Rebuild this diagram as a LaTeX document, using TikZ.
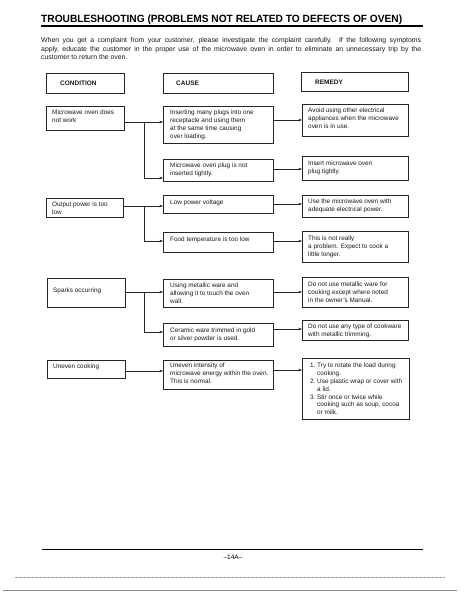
\documentclass[tikz,border=0pt]{standalone}
\usepackage{fontspec}
\setmainfont{Liberation Sans}
\usepackage{graphicx}
\usetikzlibrary{arrows.meta,calc}
\tikzset{
  bx/.style={draw=black!85, line width=0.6pt, inner sep=0pt, anchor=north west},
  bt/.style={font=\fontsize{6.4}{7.8}\selectfont, align=left, inner sep=0pt, anchor=north west, text=black!90},
  hd/.style={font=\bfseries\fontsize{6.5}{7}\selectfont, inner sep=0pt, anchor=west, text=black!90},
  para/.style={font=\fontsize{6.9}{8.5}\selectfont, inner sep=0pt, anchor=base west, text=black!90},
  arr/.style={-{Stealth[length=3.5pt,width=2.6pt]}, line width=0.5pt, draw=black!85},
}
\newcommand\mkbox[8]{%
  \node[bx, minimum width=#4pt, minimum height=#5pt] (#1) at (#2,#3) {};
  \node[bt] (#1t) at ([shift={(#6,#7)}]#1.north west) {#8};
}
\begin{document}
\begin{tikzpicture}[x=1pt,y=-1pt]
\useasboundingbox (0,0) rectangle (464,600);
\fill[white] (0,0) rectangle (464,600);

% title
\node[inner sep=0pt, anchor=base west] (title) at (41,22.5)
  {\resizebox{361pt}{\height}{\bfseries\fontsize{10.5}{12}\selectfont TROUBLESHOOTING (PROBLEMS NOT RELATED TO DEFECTS OF OVEN)}};
\coordinate (tl) at (41,26);
\coordinate (tr) at (423,26);
\draw[line width=1.1pt] (tl) -- (tr);

% paragraph
\node[para] (p1) at (41,42.5) {\makebox[380pt][s]{When you get a complaint from your customer, please investigate the complaint carefully. If the following symptoms}};
\node[para] (p2) at (41,51) {\makebox[380pt][s]{apply, educate the customer in the proper use of the microwave oven in order to eliminate an unnecessary trip by the}};
\node[para] (p3) at (41,59.5) {customer to return the oven.};

% headers
\node[bx, minimum width=78pt, minimum height=20pt] (hc) at (46,73) {};
\node[hd] (hct) at ([shift={(14,0)}]hc.west) {CONDITION};
\node[bx, minimum width=110pt, minimum height=20pt] (hca) at (163,73) {};
\node[hd] (hcat) at ([shift={(13,0)}]hca.west) {CAUSE};
\node[bx, minimum width=107pt, minimum height=19pt] (hr) at (301,72) {};
\node[hd] (hrt) at ([shift={(14,0)}]hr.west) {REMEDY};

% row 1
\mkbox{cond1}{46}{106}{78}{24}{6}{4}{Microwave oven does\\not work}
\mkbox{cause1}{163}{106}{110}{37}{7}{4}{Inserting many plugs into one\\receptacle and using them\\at the same time causing\\over loading.}
\mkbox{rem1}{302}{104}{106}{32}{6}{4}{Avoid using other electrical\\appliances when the microwave\\oven is in use.}
\mkbox{cause2}{163}{159}{110}{22}{7}{4}{Microwave oven plug is not\\inserted tightly.}
\mkbox{rem2}{302}{156}{106}{24}{6}{5}{Insert microwave oven\\plug tightly.}

% row 2
\mkbox{cond2}{46}{198}{77}{19}{6}{3.5}{Output power is too\\low}
\mkbox{cause3}{163}{195}{110}{18}{7}{5}{Low power voltage}
\mkbox{rem3}{302}{195}{106}{22}{6}{4}{Use the microwave oven with\\adequate electrical power.}
\mkbox{cause4}{163}{232}{110}{20}{7}{5}{Food temperature is too low}
\mkbox{rem4}{302}{231}{106}{31}{6}{5}{This is not really\\a problem. Expect to cook a\\little longer.}

% row 3
\mkbox{cond3}{47}{278}{78}{29}{6}{10}{Sparks occurring}
\mkbox{cause5}{163}{279}{110}{28}{7}{4}{Using metallic ware and\\allowing it to touch the oven\\wall.}
\mkbox{rem5}{302}{277}{106}{30}{6}{5}{Do not use metallic ware for\\cooking except where noted\\in the owner's Manual.}
\mkbox{cause6}{163}{323}{110}{23}{7}{5}{Ceramic ware trimmed in gold\\or silver powder is used.}
\mkbox{rem6}{302}{320}{106}{20}{6}{4}{Do not use any type of cookware\\with metallic trimming.}

% row 4
\mkbox{cond4}{47}{360}{78}{18}{6}{4}{Uneven cooking}
\mkbox{cause7}{163}{360}{110}{29}{7}{3}{Uneven intensity of\\microwave energy within the oven.\\This is normal.}
\mkbox{rem7}{302}{358}{107}{61}{8}{5}{\makebox[7pt][l]{1.}Try to rotate the load during\\\hspace*{7pt}cooking.\\\makebox[7pt][l]{2.}Use plastic wrap or cover with\\\hspace*{7pt}a lid.\\\makebox[7pt][l]{3.}Stir once or twice while\\\hspace*{7pt}cooking such as soup, cocoa\\\hspace*{7pt}or milk.}

% connector levels
\coordinate (y1) at (0,122);
\coordinate (y1r) at (0,120);
\coordinate (y2) at (0,178);
\coordinate (y2r) at (0,169);
\coordinate (y3) at (0,206);
\coordinate (y3r) at (0,204);
\coordinate (y4) at (0,241);
\coordinate (y4r) at (0,241);
\coordinate (y5) at (0,292);
\coordinate (y5r) at (0,292);
\coordinate (y6) at (0,332);
\coordinate (y6r) at (0,329);
\coordinate (y7) at (0,371);
\coordinate (y7r) at (0,370);
\coordinate (bx) at (144,0);

% row 1 connectors
\draw[arr] (cond1.east |- y1) -- (cause1.west |- y1);
\draw[arr] (bx |- y1) |- (cause2.west |- y2);
\draw[arr] (cause1.east |- y1r) -- (rem1.west |- y1r);
\draw[arr] (cause2.east |- y2r) -- (rem2.west |- y2r);
% row 2
\draw[arr] (cond2.east |- y3) -- (cause3.west |- y3);
\draw[arr] (bx |- y3) |- (cause4.west |- y4);
\draw[arr] (cause3.east |- y3r) -- (rem3.west |- y3r);
\draw[arr] (cause4.east |- y4r) -- (rem4.west |- y4r);
% row 3
\draw[arr] (cond3.east |- y5) -- (cause5.west |- y5);
\draw[arr] (bx |- y5) |- (cause6.west |- y6);
\draw[arr] (cause5.east |- y5r) -- (rem5.west |- y5r);
\draw[arr] (cause6.east |- y6r) -- (rem6.west |- y6r);
% row 4
\draw[arr] (cond4.east |- y7) -- (cause7.west |- y7);
\draw[arr] (cause7.east |- y7r) -- (rem7.west |- y7r);

% footer
\coordinate (fl) at (42,549);
\coordinate (fr) at (423,549);
\draw[line width=0.9pt] (fl) -- (fr);
\node[font=\fontsize{6.5}{7}\selectfont, inner sep=0pt] (pg) at (233,557) {--14A--};
\coordinate (s1l) at (15,577);
\coordinate (s1r) at (445,577);
\draw[black!40, line width=0.5pt, dash pattern=on 3pt off 1pt] (s1l) -- (s1r);
\coordinate (s2l) at (3,590);
\coordinate (s2r) at (457,590);
\draw[black!45, line width=0.6pt] (s2l) -- (s2r);
\end{tikzpicture}
\end{document}
